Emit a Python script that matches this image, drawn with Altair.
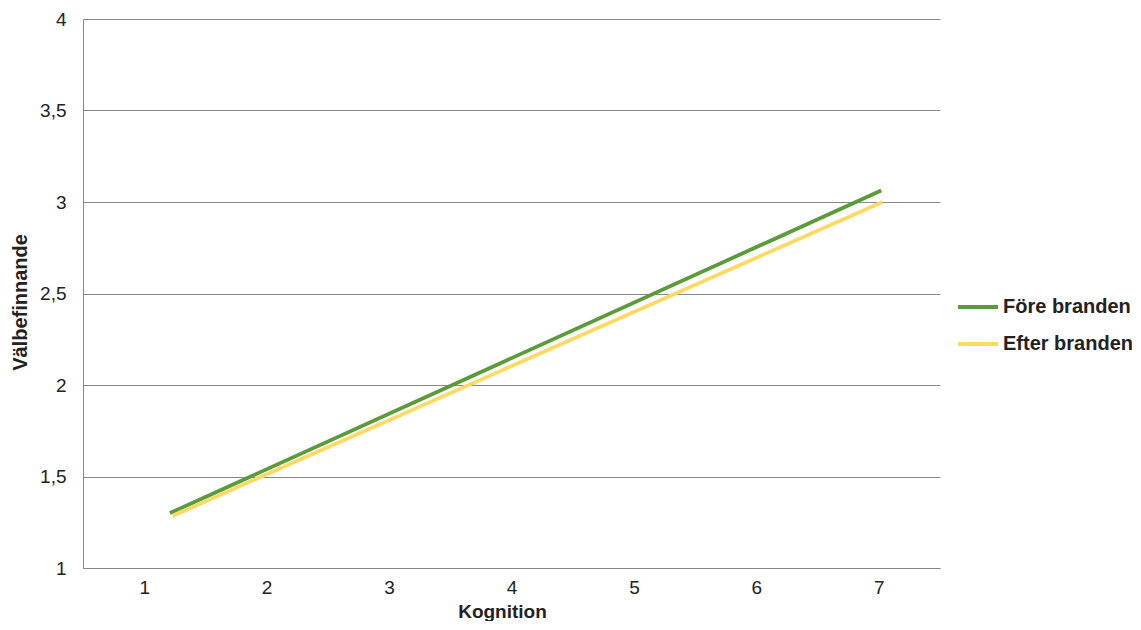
import altair as alt
import pandas as pd

series = ["Före branden", "Efter branden"]
kognition_fore = [1.21, 7.02]
valbef_fore = [1.30, 3.063]
kognition_efter = [1.23, 7.03]
valbef_efter = [1.284, 3.0]
x_ticks = [1, 2, 3, 4, 5, 6, 7]
y_ticks = [1, 1.5, 2, 2.5, 3, 3.5, 4]
colors = ["#5B9B3A", "#FFD966"]

rows = []
for x, y in zip(kognition_fore, valbef_fore):
    rows.append({"Kognition": x, "Välbefinnande": y, "Serie": series[0]})
for x, y in zip(kognition_efter, valbef_efter):
    rows.append({"Kognition": x, "Välbefinnande": y, "Serie": series[1]})
df = pd.DataFrame(rows)

FONT = "Liberation Sans Narrow, Liberation Sans, Arial"

chart = alt.Chart(df).mark_line(strokeWidth=3.8).encode(
    x=alt.X("Kognition:Q",
            scale=alt.Scale(domain=[0.5, 7.5], nice=False, zero=False),
            axis=alt.Axis(values=x_ticks, grid=False, ticks=False, domainColor="#888888",
                          labelFontSize=19, labelColor="#222222", labelPadding=10,
                          title="Kognition", titleFontSize=19, titleFontWeight="bold",
                          titleColor="#222222", titlePadding=5, titleX=419,
                          labelFont=FONT, titleFont=FONT)),
    y=alt.Y("Välbefinnande:Q",
            scale=alt.Scale(domain=[1, 4], nice=False, zero=False),
            axis=alt.Axis(values=y_ticks, grid=True, gridColor="#888888", ticks=False,
                          domainColor="#888888",
                          labelExpr="replace(format(datum.value, '~g'), '.', ',')",
                          labelFontSize=19, labelColor="#222222", labelPadding=17,
                          title="Välbefinnande", titleFontSize=20, titleFontWeight="bold",
                          titleColor="#222222", titlePadding=9, titleY=283,
                          labelFont=FONT, titleFont=FONT)),
    color=alt.Color("Serie:N", scale=alt.Scale(domain=series, range=colors),
                    legend=alt.Legend(title=None, orient="none", legendX=873, legendY=266,
                                      symbolType="stroke", symbolSize=1600, symbolStrokeWidth=3.8,
                                      labelFontSize=20, labelFontWeight="bold", labelColor="#222222",
                                      labelFont=FONT, rowPadding=5, labelOffset=3)),
).properties(
    width=857, height=549,
    autosize=alt.AutoSizeParams(type="none"),
    padding={"left": 75, "top": 11, "right": 192, "bottom": 53},
).configure_view(stroke=None)

chart.save("out.html", embed_options={"renderer": "svg", "actions": False})
